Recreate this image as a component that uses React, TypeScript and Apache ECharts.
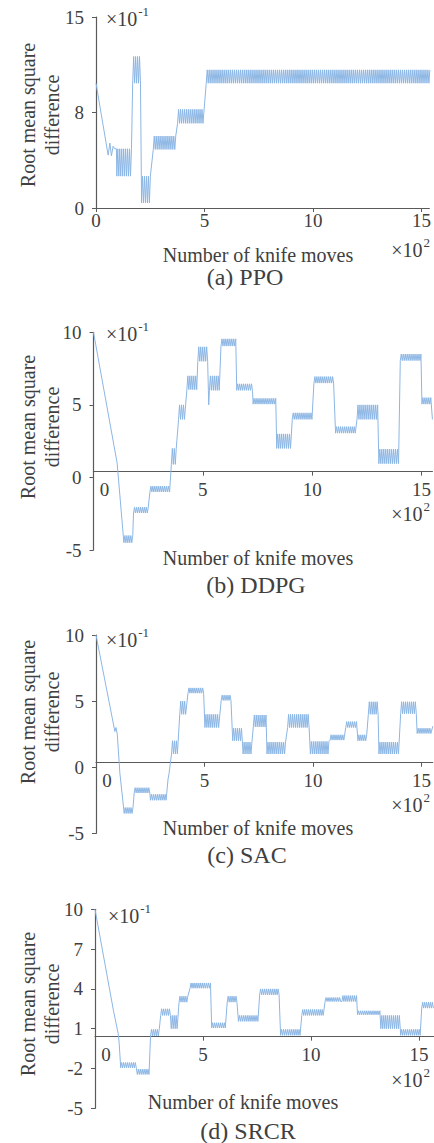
import React, { useEffect, useRef } from "react";
import * as echarts from "echarts";

// x in units of 10^2 knife moves, y in units of 10^-1
// each segment: [xStart, xEnd, low, high]; low === high means a plain point run
const ppoSegments: number[][] = [
  [0, 0, 9.8, 9.8],
  [0.56, 0.56, 4.15, 4.15],
  [0.64, 0.64, 5.1, 5.1],
  [0.71, 0.71, 4.1, 4.1],
  [0.79, 0.79, 4.85, 4.85],
  [0.86, 0.94, 4.65, 4.65],
  [0.96, 1.66, 2.5, 4.65],
  [1.69, 2.06, 9.8, 11.9],
  [2.1, 2.52, 0.4, 2.5],
  [2.64, 3.7, 4.6, 5.65],
  [3.76, 4.95, 6.65, 7.75],
  [5.08, 15.4, 9.8, 10.85],
];

const ddpgSegments: number[][] = [
  [0, 0, 10, 10],
  [1.08, 1.08, 1.0, 1.0],
  [1.39, 1.8, -4.5, -4.0],
  [1.83, 2.54, -2.45, -2.05],
  [2.58, 3.48, -1.0, -0.6],
  [3.56, 3.82, 0.9, 2.0],
  [3.89, 4.2, 4.0, 5.0],
  [4.27, 4.72, 6.05, 7.0],
  [4.77, 5.23, 8.0, 9.0],
  [5.27, 5.27, 5.0, 5.0],
  [5.3, 5.76, 6.0, 7.0],
  [5.83, 6.52, 9.05, 9.55],
  [6.55, 7.27, 6.0, 6.45],
  [7.3, 8.34, 5.05, 5.45],
  [8.38, 9.05, 2.0, 3.0],
  [9.09, 10.0, 4.0, 4.45],
  [10.08, 11.0, 6.5, 6.95],
  [11.07, 11.98, 3.05, 3.5],
  [12.05, 13.0, 4.0, 5.0],
  [13.05, 13.95, 0.95, 1.95],
  [14.03, 14.98, 8.05, 8.5],
  [15.02, 15.45, 5.05, 5.5],
  [15.5, 15.5, 4.0, 4.0],
];

const sacSegments: number[][] = [
  [0, 0, 10, 10],
  [0.87, 0.87, 2.7, 2.7],
  [0.92, 0.92, 3.0, 3.0],
  [0.98, 0.98, 2.5, 2.5],
  [1.1, 1.1, -0.45, -0.45],
  [1.3, 1.71, -3.5, -3.05],
  [1.76, 2.48, -1.95, -1.55],
  [2.51, 3.25, -2.5, -2.05],
  [3.32, 3.4, -0.9, -0.5],
  [3.48, 3.78, 1.0, 2.0],
  [3.86, 4.17, 4.0, 5.0],
  [4.24, 4.96, 5.6, 6.0],
  [5.02, 5.69, 3.0, 4.0],
  [5.77, 6.26, 5.05, 5.45],
  [6.3, 6.73, 2.0, 2.95],
  [6.78, 7.19, 1.0, 1.9],
  [7.25, 7.84, 3.05, 3.95],
  [7.88, 8.76, 1.0, 1.9],
  [8.83, 9.83, 3.0, 4.0],
  [9.88, 10.74, 1.0, 1.95],
  [10.79, 11.46, 2.05, 2.45],
  [11.51, 12.04, 3.0, 3.45],
  [12.07, 12.5, 2.0, 2.45],
  [12.55, 13.0, 4.0, 4.95],
  [13.04, 13.96, 1.0, 1.9],
  [14.04, 14.76, 4.05, 4.95],
  [14.8, 15.45, 2.55, 2.95],
  [15.52, 15.52, 3.1, 3.1],
];

const srcrSegments: number[][] = [
  [0, 0, 10, 10],
  [0.85, 0.85, 2.4, 2.4],
  [1.07, 1.07, 0.65, 0.65],
  [1.12, 1.12, -0.1, -0.1],
  [1.19, 1.93, -1.95, -1.55],
  [1.96, 2.51, -2.45, -2.05],
  [2.57, 3.01, 0.45, 0.95],
  [3.04, 3.5, 2.0, 2.5],
  [3.53, 3.81, 1.0, 2.0],
  [3.89, 4.32, 3.0, 3.45],
  [4.4, 5.36, 4.05, 4.45],
  [5.4, 6.06, 1.05, 1.45],
  [6.12, 6.59, 3.0, 3.45],
  [6.64, 7.58, 1.55, 2.0],
  [7.62, 8.53, 3.55, 4.0],
  [8.59, 9.5, 0.5, 0.95],
  [9.57, 10.6, 2.0, 2.45],
  [10.65, 11.4, 3.05, 3.35],
  [11.43, 12.11, 3.05, 3.5],
  [12.15, 13.19, 2.05, 2.35],
  [13.23, 14.11, 1.0, 2.0],
  [14.15, 15.08, 0.5, 0.95],
  [15.12, 15.69, 2.55, 3.0],
];

const xTicks = [0, 5, 10, 15];
const ppoYTicks = [0, 7.5, 15];
const ppoYTickLabels = ["0", "8", "15"];
const midYTicks = [-5, 0, 5, 10];
const midYTickLabels = ["-5", "0", "5", "10"];
const srcrYTicks = [-5, -2, 1, 4, 7, 10];
const srcrYTickLabels = ["-5", "-2", "1", "4", "7", "10"];

const captions = ["(a) PPO", "(b) DDPG", "(c) SAC", "(d) SRCR"];
const xTitle = "Number of knife moves";
const yTitle = "Root mean square\ndifference";

const FONT = "Liberation Serif";
const TEXT = "#404040";
const AXIS = "#5a5a5a";
const LINE = "#8cb6e4";

// zig-zag rendering of the oscillating bands
function expand(segs: number[][]) {
  const out: number[][] = [];
  const step = 0.045;
  for (const [x0, x1, lo, hi] of segs) {
    if (lo === hi) {
      out.push([x0, lo]);
      if (x1 !== x0) out.push([x1, lo]);
      continue;
    }
    let k = 0;
    for (let x = x0; x <= x1 + 1e-9; x += step, k++) {
      out.push([+x.toFixed(3), k % 2 ? hi : lo]);
    }
  }
  return out;
}

const panels = [
  {
    grid: { left: 96, top: 17, width: 338, height: 191 },
    xMax: 15.36, yMin: 0, yMax: 15, yTicks: ppoYTicks, yLabels: ppoYTickLabels,
    xLineAt: null as number | null, shiftZero: false, seg: ppoSegments,
    expY: 17, expX: 106, e2Y: 248, titleX: 258, titleY: 255, capX: 245, capY: 277, yNameY: 115,
  },
  {
    grid: { left: 93.5, top: 332.3, width: 340.5, height: 217.7 },
    xMax: 15.5, yMin: -5, yMax: 10, yTicks: midYTicks, yLabels: midYTickLabels,
    xLineAt: 0.4, shiftZero: true, seg: ddpgSegments,
    expY: 332, expX: 106, e2Y: 512, titleX: 258, titleY: 558, capX: 256, capY: 585, yNameY: 427,
  },
  {
    grid: { left: 96, top: 635, width: 338, height: 198.3 },
    xMax: 15.52, yMin: -5, yMax: 10, yTicks: midYTicks, yLabels: midYTickLabels,
    xLineAt: 0.34, shiftZero: true, seg: sacSegments,
    expY: 638, expX: 106, e2Y: 803, titleX: 258, titleY: 828, capX: 247, capY: 855, yNameY: 712,
  },
  {
    grid: { left: 95, top: 909.3, width: 339, height: 199 },
    xMax: 15.69, yMin: -5, yMax: 10, yTicks: srcrYTicks, yLabels: srcrYTickLabels,
    xLineAt: 0.4, shiftZero: true, seg: srcrSegments,
    expY: 914, expX: 108, e2Y: 1078, titleX: 243, titleY: 1102, capX: 248, capY: 1131, yNameY: 1004,
  },
];

export default function App() {
  const ref = useRef<HTMLDivElement>(null);
  useEffect(() => {
    if (!ref.current) return;
    const chart = echarts.init(ref.current, null, { renderer: "svg" });
    const grids: any[] = [];
    const xAxes: any[] = [];
    const yAxes: any[] = [];
    const series: any[] = [];
    const graphics: any[] = [];
    panels.forEach((p, i) => {
      grids.push({ ...p.grid, containLabel: false });
      const offset =
        p.xLineAt === null
          ? 0
          : -((p.xLineAt - p.yMin) / (p.yMax - p.yMin)) * p.grid.height;
      xAxes.push({
        type: "value",
        gridIndex: i,
        min: 0,
        max: p.xMax,
        position: "bottom",
        offset,
        axisLine: { show: true, onZero: false, lineStyle: { color: AXIS, width: 1.2 } },
        axisTick: { show: true, length: 4, customValues: xTicks, lineStyle: { color: AXIS } },
        splitLine: { show: false },
        axisLabel: {
          customValues: xTicks,
          margin: p.shiftZero ? 8 : 3,
          fontFamily: FONT,
          fontSize: 19,
          color: TEXT,
          formatter: (v: number) => (p.shiftZero && v === 0 ? "{z|0}" : String(v)),
          rich: { z: { padding: [0, 0, 0, 22], fontFamily: FONT, fontSize: 19, color: TEXT } },
        },
      });
      yAxes.push({
        type: "value",
        gridIndex: i,
        min: p.yMin,
        max: p.yMax,
        axisLine: { show: true, onZero: false, lineStyle: { color: AXIS, width: 1.2 } },
        axisTick: { show: true, length: 4, customValues: p.yTicks, lineStyle: { color: AXIS } },
        splitLine: { show: false },
        axisLabel: {
          customValues: p.yTicks,
          margin: 12,
          fontFamily: FONT,
          fontSize: 19,
          color: TEXT,
          formatter: (v: number) => {
            const k = p.yTicks.findIndex((t) => Math.abs(t - v) < 1e-6);
            return k >= 0 ? p.yLabels[k] : "";
          },
        },
      });
      series.push({
        type: "line",
        xAxisIndex: i,
        yAxisIndex: i,
        data: expand(p.seg),
        showSymbol: false,
        symbol: "none",
        clip: true,
        lineStyle: { color: LINE, width: 1 },
      });
      graphics.push({
        type: "text",
        x: p.expX,
        y: p.expY,
        style: {
          text: "{b|×10}{s|-1}",
          align: "left",
          verticalAlign: "middle",
          rich: {
            b: { fontFamily: FONT, fontSize: 20, fill: TEXT, lineHeight: 24, verticalAlign: "bottom" },
            s: { fontFamily: FONT, fontSize: 13, fill: TEXT, lineHeight: 24, verticalAlign: "top", padding: [0, 0, 0, 1] },
          },
        },
      });
      graphics.push({
        type: "text",
        x: 430,
        y: p.e2Y,
        style: {
          text: "{b|×10}{s|2}",
          align: "right",
          verticalAlign: "middle",
          rich: {
            b: { fontFamily: FONT, fontSize: 20, fill: TEXT, lineHeight: 24, verticalAlign: "bottom" },
            s: { fontFamily: FONT, fontSize: 13, fill: TEXT, lineHeight: 24, verticalAlign: "top", padding: [0, 0, 0, 1] },
          },
        },
      });
      graphics.push({
        type: "text",
        x: p.titleX,
        y: p.titleY,
        style: { text: xTitle, fontFamily: FONT, fontSize: 20, fill: TEXT, align: "center", verticalAlign: "middle" },
      });
      graphics.push({
        type: "text",
        x: p.capX,
        y: p.capY,
        style: { text: captions[i], fontFamily: FONT, fontSize: 24, fill: TEXT, align: "center", verticalAlign: "middle" },
      });
      graphics.push({
        type: "text",
        x: 40,
        y: p.yNameY,
        rotation: Math.PI / 2,
        style: {
          text: yTitle,
          fontFamily: FONT,
          fontSize: 20,
          lineHeight: 24,
          fill: TEXT,
          align: "center",
          verticalAlign: "middle",
        },
      });
    });
    chart.setOption({
      animation: false,
      backgroundColor: "#ffffff",
      grid: grids,
      xAxis: xAxes,
      yAxis: yAxes,
      series,
      graphic: graphics,
    });
    return () => chart.dispose();
  }, []);
  return (
    <div
      ref={ref}
      style={{ position: "absolute", left: 0, top: 0, width: 434, height: 1143 }}
    />
  );
}
